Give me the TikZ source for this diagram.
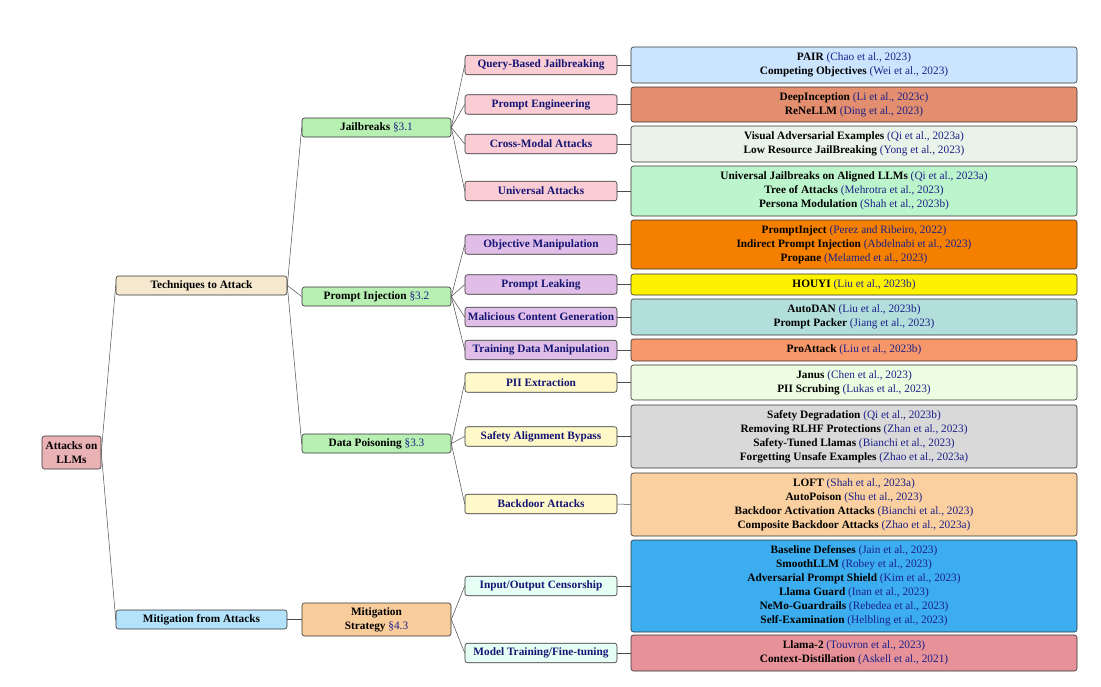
\documentclass[tikz,border=0pt]{standalone}
\usepackage{fontspec}
\setmainfont{Liberation Serif}
\definecolor{citeblue}{RGB}{28,32,135}
\definecolor{subblue}{RGB}{20,20,115}
\definecolor{cRoot}{RGB}{235,178,182}
\definecolor{cTech}{RGB}{245,232,206}
\definecolor{cMitA}{RGB}{179,226,250}
\definecolor{cGreen}{RGB}{183,240,178}
\definecolor{cMitS}{RGB}{249,204,156}
\definecolor{cPink}{RGB}{250,205,212}
\definecolor{cLav}{RGB}{224,190,232}
\definecolor{cYel}{RGB}{255,248,200}
\definecolor{cMint}{RGB}{230,255,245}
\definecolor{bA}{RGB}{204,229,255}
\definecolor{bB}{RGB}{227,142,110}
\definecolor{bC}{RGB}{233,243,233}
\definecolor{bD}{RGB}{188,245,204}
\definecolor{bE}{RGB}{245,128,0}
\definecolor{bF}{RGB}{255,242,0}
\definecolor{bG}{RGB}{178,222,220}
\definecolor{bH}{RGB}{247,152,106}
\definecolor{bI}{RGB}{236,253,226}
\definecolor{bJ}{RGB}{217,217,217}
\definecolor{bK}{RGB}{250,208,160}
\definecolor{bL}{RGB}{60,173,238}
\definecolor{bM}{RGB}{230,146,152}
\newcommand{\cit}[1]{{\mdseries\color{citeblue}(#1)}}
\newcommand{\secref}[1]{{\mdseries\color{citeblue}#1}}
\tikzset{
  base/.style={draw=black!80, line width=0.6pt, rounded corners=2.5pt, inner sep=1pt, align=center,
    font=\fontsize{11.3}{14}\selectfont\bfseries},
  rootbox/.style={base, fill=cRoot, minimum width=59pt, minimum height=33pt},
  lvlone/.style={base, minimum width=171pt, minimum height=19pt},
  lvltwo/.style={base, minimum width=149pt, minimum height=19pt},
  lvlthree/.style={base, text=subblue, minimum width=152pt, minimum height=19.5pt},
  leafbox/.style={base, minimum width=446pt},
  conn/.style={draw=black!70, line width=0.5pt},
}
\begin{document}
\begin{tikzpicture}[x=1pt, y=-1pt]
\useasboundingbox (0,0) rectangle (1101,686);
% root and level 1
\node[rootbox] (root) at (71.5,452.5) {Attacks on\\LLMs};
\node[lvlone, fill=cTech] (tech) at (201.5,285.5) {Techniques to Attack};
\node[lvlone, fill=cMitA] (mita) at (201.5,619.5) {Mitigation from Attacks};
% level 2
\node[lvltwo, fill=cGreen] (jb) at (376.5,127.5) {Jailbreaks \secref{\S3.1}};
\node[lvltwo, fill=cGreen] (pi) at (376.5,296.5) {Prompt Injection \secref{\S3.2}};
\node[lvltwo, fill=cGreen] (dp) at (376.5,443.5) {Data Poisoning \secref{\S3.3}};
\node[lvltwo, fill=cMitS, minimum height=33pt] (ms) at (376.5,619.5) {Mitigation\\Strategy \secref{\S4.3}};
% level 3
\node[lvlthree, fill=cPink] (q1) at (541,65) {Query-Based Jailbreaking};
\node[lvlthree, fill=cPink] (q2) at (541,104.5) {Prompt Engineering};
\node[lvlthree, fill=cPink] (q3) at (541,144) {Cross-Modal Attacks};
\node[lvlthree, fill=cPink] (q4) at (541,191) {Universal Attacks};
\node[lvlthree, fill=cLav] (p1) at (541,244.5) {Objective Manipulation};
\node[lvlthree, fill=cLav] (p2) at (541,284.5) {Prompt Leaking};
\node[lvlthree, fill=cLav] (p3) at (541,317) {Malicious Content Generation};
\node[lvlthree, fill=cLav] (p4) at (541,350) {Training Data Manipulation};
\node[lvlthree, fill=cYel] (d1) at (541,382.5) {PII Extraction};
\node[lvlthree, fill=cYel] (d2) at (541,436.5) {Safety Alignment Bypass};
\node[lvlthree, fill=cYel] (d3) at (541,504) {Backdoor Attacks};
\node[lvlthree, fill=cMint] (m1) at (541,586) {Input/Output Censorship};
\node[lvlthree, fill=cMint] (m2) at (541,653) {Model Training/Fine-tuning};
% level 4
\node[leafbox, fill=bA, minimum height=36pt] (l1) at (854,65) {PAIR \cit{Chao et al., 2023}\\Competing Objectives \cit{Wei et al., 2023}};
\node[leafbox, fill=bB, minimum height=35pt] (l2) at (854,104.5) {DeepInception \cit{Li et al., 2023c}\\ReNeLLM \cit{Ding et al., 2023}};
\node[leafbox, fill=bC, minimum height=36pt] (l3) at (854,144) {Visual Adversarial Examples \cit{Qi et al., 2023a}\\Low Resource JailBreaking \cit{Yong et al., 2023}};
\node[leafbox, fill=bD, minimum height=50pt] (l4) at (854,191) {Universal Jailbreaks on Aligned LLMs \cit{Qi et al., 2023a}\\Tree of Attacks \cit{Mehrotra et al., 2023}\\Persona Modulation \cit{Shah et al., 2023b}};
\node[leafbox, fill=bE, minimum height=49pt] (l5) at (854,244.5) {PromptInject \cit{Perez and Ribeiro, 2022}\\Indirect Prompt Injection \cit{Abdelnabi et al., 2023}\\Propane \cit{Melamed et al., 2023}};
\node[leafbox, fill=bF, minimum height=21pt] (l6) at (854,284.5) {HOUYI \cit{Liu et al., 2023b}};
\node[leafbox, fill=bG, minimum height=36pt] (l7) at (854,317) {AutoDAN \cit{Liu et al., 2023b}\\Prompt Packer \cit{Jiang et al., 2023}};
\node[leafbox, fill=bH, minimum height=22pt] (l8) at (854,350) {ProAttack \cit{Liu et al., 2023b}};
\node[leafbox, fill=bI, minimum height=35pt] (l9) at (854,382.5) {Janus \cit{Chen et al., 2023}\\PII Scrubing \cit{Lukas et al., 2023}};
\node[leafbox, fill=bJ, minimum height=63pt] (l10) at (854,436.5) {Safety Degradation \cit{Qi et al., 2023b}\\Removing RLHF Protections \cit{Zhan et al., 2023}\\Safety-Tuned Llamas \cit{Bianchi et al., 2023}\\Forgetting Unsafe Examples \cit{Zhao et al., 2023a}};
\node[leafbox, fill=bK, minimum height=63pt] (l11) at (854,504.5) {LOFT \cit{Shah et al., 2023a}\\AutoPoison \cit{Shu et al., 2023}\\Backdoor Activation Attacks \cit{Bianchi et al., 2023}\\Composite Backdoor Attacks \cit{Zhao et al., 2023a}};
\node[leafbox, fill=bL, minimum height=92pt] (l12) at (854,586) {Baseline Defenses \cit{Jain et al., 2023}\\SmoothLLM \cit{Robey et al., 2023}\\Adversarial Prompt Shield \cit{Kim et al., 2023}\\Llama Guard \cit{Inan et al., 2023}\\NeMo-Guardrails \cit{Rebedea et al., 2023}\\Self-Examination \cit{Helbling et al., 2023}};
\node[leafbox, fill=bM, minimum height=36pt] (l13) at (854,653) {Llama-2 \cit{Touvron et al., 2023}\\Context-Distillation \cit{Askell et al., 2021}};
% connectors
\draw[conn] (root.east) -- (tech.west);
\draw[conn] (root.east) -- (mita.west);
\draw[conn] (tech.east) -- (jb.west);
\draw[conn] (tech.east) -- (pi.west);
\draw[conn] (tech.east) -- (dp.west);
\draw[conn] (mita.east) -- (ms.west);
\foreach \c in {q1,q2,q3,q4} \draw[conn] (jb.east) -- (\c.west);
\foreach \c in {p1,p2,p3,p4} \draw[conn] (pi.east) -- (\c.west);
\foreach \c in {d1,d2,d3} \draw[conn] (dp.east) -- (\c.west);
\foreach \c in {m1,m2} \draw[conn] (ms.east) -- (\c.west);
\draw[conn] (q1.east) -- (l1.west);
\draw[conn] (q2.east) -- (l2.west);
\draw[conn] (q3.east) -- (l3.west);
\draw[conn] (q4.east) -- (l4.west);
\draw[conn] (p1.east) -- (l5.west);
\draw[conn] (p2.east) -- (l6.west);
\draw[conn] (p3.east) -- (l7.west);
\draw[conn] (p4.east) -- (l8.west);
\draw[conn] (d1.east) -- (l9.west);
\draw[conn] (d2.east) -- (l10.west);
\draw[conn] (d3.east) -- (l11.west);
\draw[conn] (m1.east) -- (l12.west);
\draw[conn] (m2.east) -- (l13.west);
\end{tikzpicture}
\end{document}
